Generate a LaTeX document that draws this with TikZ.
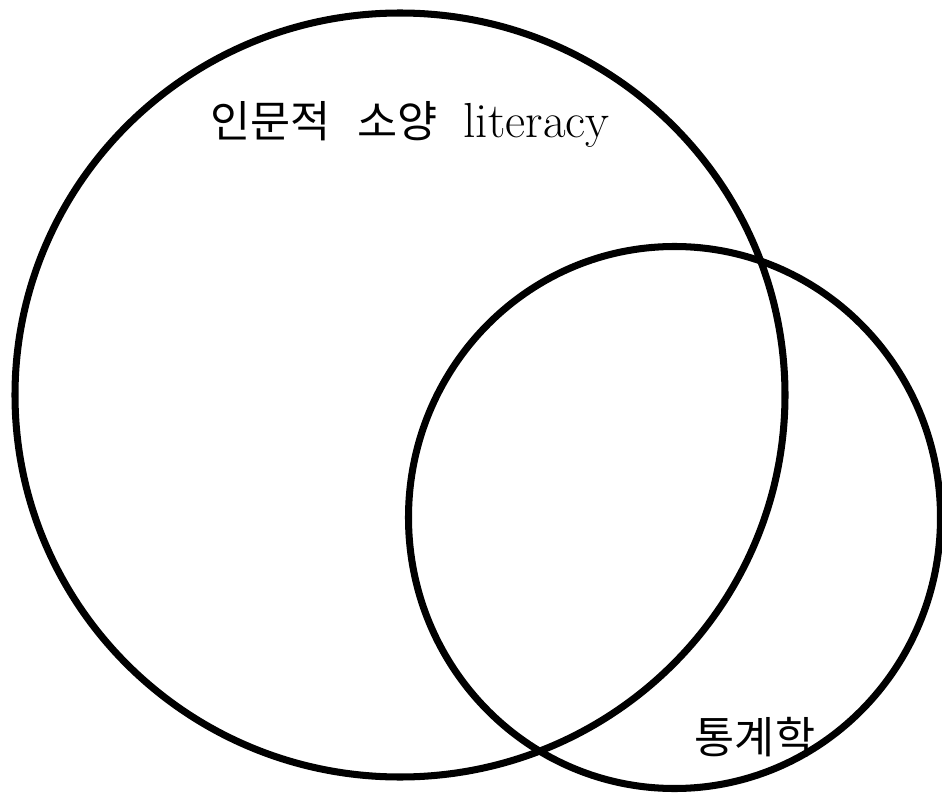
\documentclass[tikz,border=0pt]{standalone}
\usepackage{fontspec}
\newfontfamily\kr{Noto Sans CJK KR}
\tikzset{
  setline/.style={draw=black,line width=5pt},
  setlabel/.style={font=\fontsize{31}{36}\selectfont,inner sep=0pt}
}
\begin{document}
\begin{tikzpicture}[x=0.025cm,y=-0.025cm]
\useasboundingbox (0,0) rectangle (942,794);
% sets
\draw[setline] (400,395) ellipse [x radius=385,y radius=382];
\draw[setline] (674.5,517.5) ellipse [x radius=266,y radius=271];
% labels
\node[setlabel] (human) at (410,124) {{\kr 인문적}\ \ {\kr 소양}\hspace{0.6em}{\fontsize{35}{40}\selectfont literacy}};
\node[setlabel] (stat) at (755,737) {\kr 통계학};
\end{tikzpicture}
\end{document}
